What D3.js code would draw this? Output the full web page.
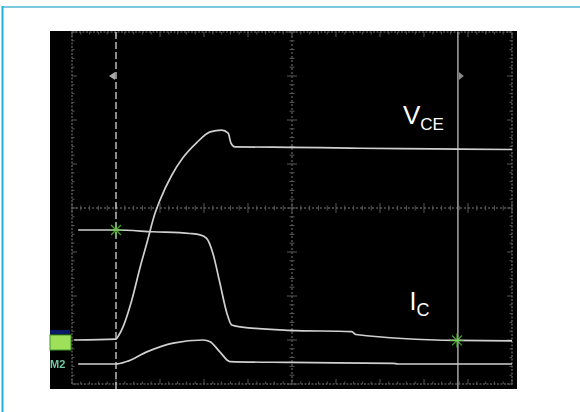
<!DOCTYPE html>
<html><head><meta charset="utf-8">
<script src="https://cdn.jsdelivr.net/npm/d3@7"></script>
<style>body{margin:0;background:#fff}svg{display:block}</style>
</head><body>
<svg id="c" width="580" height="412"></svg>
<script>
// Data in oscilloscope divisions (x: 0..10, y: 0..8 from bottom)
const vceX = [0.05,1.0,1.07,1.16,1.36,1.55,1.70,1.89,2.0,2.27,2.52,2.83,3.14,3.40,3.55,3.61,3.70,4.95,6.32,7.45,8.77,10];
const vceY = [1.00,1.02,1.12,1.30,1.91,2.66,3.20,3.89,4.18,4.75,5.14,5.48,5.73,5.77,5.70,5.48,5.39,5.38,5.36,5.35,5.34,5.33];
const icX = [0.14,1.0,1.84,2.68,2.91,3.06,3.20,3.36,3.52,3.63,3.82,4.95,6.36,6.45,8.75,10];
const icY = [3.50,3.50,3.46,3.42,3.39,3.31,2.98,2.30,1.61,1.34,1.30,1.22,1.19,1.125,0.99,0.98];
const vgX = [0.14,1.0,1.24,1.70,2.30,2.98,3.14,3.36,3.59,4.95,7.30,7.41,10];
const vgY = [0.455,0.455,0.51,0.73,0.93,1.0,0.96,0.73,0.51,0.49,0.47,0.455,0.455];
const cursorX = [1.0, 8.77];
const markers = [[1.0,3.5],[8.75,0.99]];
const labels = [{main:"V",sub:"CE"},{main:"I",sub:"C"}];

const svg = d3.select("#c");
const defs = svg.append("defs");
defs.append("filter").attr("id","soft").append("feGaussianBlur").attr("stdDeviation",0.45);

// frame
svg.append("line").attr("x1",2).attr("x2",580).attr("y1",7).attr("y2",7).attr("stroke","#7cc8de").attr("stroke-width",2);
svg.append("line").attr("x1",2.5).attr("x2",2.5).attr("y1",6).attr("y2",412).attr("stroke","#1fb0dc").attr("stroke-width",2);

// screen
svg.append("rect").attr("x",50).attr("y",31).attr("width",467).attr("height",358).attr("fill","#000");

const x = d3.scaleLinear().domain([0,10]).range([72,512]);
const y = d3.scaleLinear().domain([0,8]).range([384,32]);
const g = svg.append("g").attr("filter","url(#soft)");
const gridCol = "#565656";
// border
g.append("rect").attr("x",x(0)).attr("y",y(8)).attr("width",x(10)-x(0)).attr("height",y(0)-y(8))
 .attr("fill","none").attr("stroke",gridCol).attr("stroke-width",1.5).attr("stroke-dasharray","2,1.5");
// centre lines
g.append("line").attr("x1",x(5)).attr("x2",x(5)).attr("y1",y(8)).attr("y2",y(0)).attr("stroke",gridCol).attr("stroke-width",1.4).attr("stroke-dasharray","2,2");
g.append("line").attr("x1",x(0)).attr("x2",x(10)).attr("y1",y(4)).attr("y2",y(4)).attr("stroke",gridCol).attr("stroke-width",1.4).attr("stroke-dasharray","2,2");
// minor ticks
const minorX = d3.range(0,10.01,0.2), minorY = d3.range(0,8.01,0.2);
minorX.forEach(v=>{
  const maj = Math.abs(v-Math.round(v))<1e-6;
  const L = maj?5:2.5;
  g.append("line").attr("x1",x(v)).attr("x2",x(v)).attr("y1",y(4)-L).attr("y2",y(4)+L).attr("stroke",gridCol).attr("stroke-width",1);
  g.append("line").attr("x1",x(v)).attr("x2",x(v)).attr("y1",y(8)).attr("y2",y(8)+L).attr("stroke",gridCol).attr("stroke-width",1);
  g.append("line").attr("x1",x(v)).attr("x2",x(v)).attr("y1",y(0)).attr("y2",y(0)-L).attr("stroke",gridCol).attr("stroke-width",1);
});
minorY.forEach(v=>{
  const maj = Math.abs(v-Math.round(v))<1e-6;
  const L = maj?5:2.5;
  g.append("line").attr("y1",y(v)).attr("y2",y(v)).attr("x1",x(5)-L).attr("x2",x(5)+L).attr("stroke",gridCol).attr("stroke-width",1);
  g.append("line").attr("y1",y(v)).attr("y2",y(v)).attr("x1",x(0)).attr("x2",x(0)+L).attr("stroke",gridCol).attr("stroke-width",1);
  g.append("line").attr("y1",y(v)).attr("y2",y(v)).attr("x1",x(10)).attr("x2",x(10)-L).attr("stroke",gridCol).attr("stroke-width",1);
});

// cursors
const cur = svg.append("g").attr("filter","url(#soft)");
cur.append("line").attr("x1",x(cursorX[0])).attr("x2",x(cursorX[0])).attr("y1",32).attr("y2",389)
 .attr("stroke","#c8c8c8").attr("stroke-width",1.4).attr("stroke-dasharray","7,3");
cur.append("line").attr("x1",x(cursorX[1])).attr("x2",x(cursorX[1])).attr("y1",32).attr("y2",389)
 .attr("stroke","#9a9a9a").attr("stroke-width",1.6);
// cursor markers
cur.append("path").attr("d",`M${x(cursorX[0])-1},${y(7)-4}L${x(cursorX[0])-7},${y(7)}L${x(cursorX[0])-1},${y(7)+4}Z`).attr("fill","#aaa");
cur.append("path").attr("d",`M${x(cursorX[1])+1},${y(7)-4}L${x(cursorX[1])+6},${y(7)}L${x(cursorX[1])+1},${y(7)+4}Z`).attr("fill","#888");

// traces
const line = d3.line().x(d=>x(d[0])).y(d=>y(d[1])).curve(d3.curveMonotoneX);
const traceCol = "#d0d0d0";
const tr = svg.append("g").attr("filter","url(#soft)");
[[vceX,vceY],[icX,icY],[vgX,vgY]].forEach(([xs,ys])=>{
  tr.append("path").datum(xs.map((v,i)=>[v,ys[i]])).attr("d",line)
   .attr("fill","none").attr("stroke",traceCol).attr("stroke-width",1.7).attr("stroke-linejoin","round");
});

// star markers
markers.forEach(([mx,my])=>{
  const cx=x(mx), cy=y(my), r=7;
  const s = svg.append("g").attr("stroke","#5fcf3c").attr("stroke-width",1.3).attr("opacity",0.75).attr("filter","url(#soft)");
  [0,45,90,135].forEach(a=>{
    const t=a*Math.PI/180;
    s.append("line").attr("x1",cx-r*Math.cos(t)).attr("y1",cy-r*Math.sin(t)).attr("x2",cx+r*Math.cos(t)).attr("y2",cy+r*Math.sin(t));
  });
});

// channel indicators
svg.append("rect").attr("x",50).attr("y",330).attr("width",20).attr("height",4).attr("fill","#0a1a6a");
svg.append("rect").attr("x",50).attr("y",335).attr("width",21).attr("height",15).attr("fill","#9fe05a").attr("stroke","#3f9a2a").attr("stroke-width",1);
svg.append("text").attr("x",50).attr("y",368).attr("font-family","Liberation Sans, Arial, sans-serif").attr("font-size",11).attr("font-weight","bold")
 .attr("fill","#6fc8a8").attr("filter","url(#soft)").text("M2");

// labels
const lab1 = svg.append("text").attr("x",403).attr("y",124).attr("fill","#fff").attr("font-family","Liberation Sans, Arial, sans-serif").attr("font-size",26);
lab1.append("tspan").text(labels[0].main);
lab1.append("tspan").attr("font-size",17).attr("dy",6).text(labels[0].sub);
const lab2 = svg.append("text").attr("x",409.5).attr("y",310).attr("fill","#fff").attr("font-family","Liberation Sans, Arial, sans-serif").attr("font-size",25);
lab2.append("tspan").text(labels[1].main);
lab2.append("tspan").attr("font-size",18).attr("dy",6).text(labels[1].sub);
</script>
</body></html>
